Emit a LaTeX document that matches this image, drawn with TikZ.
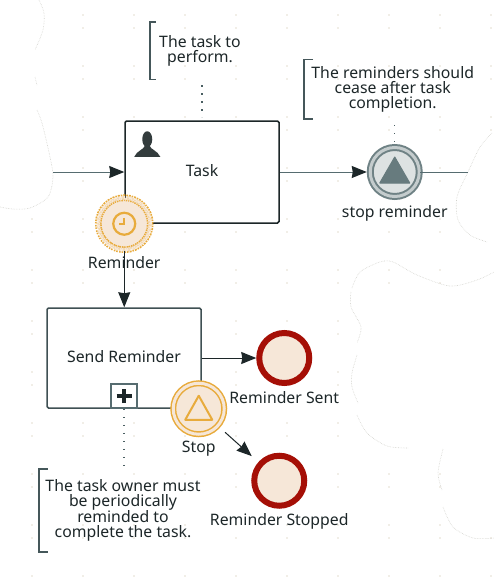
\documentclass[tikz,border=0pt]{standalone}
\usepackage{fontspec}
\setmainfont{Noto Sans}
\usetikzlibrary{positioning,arrows.meta,calc}
\definecolor{ink}{HTML}{1C2628}
\definecolor{slate}{HTML}{566C70}
\definecolor{peach}{HTML}{F6E7D8}
\definecolor{amber}{HTML}{E8AB3C}
\definecolor{blood}{HTML}{A50F06}
\definecolor{griddot}{HTML}{E3DCCF}
\definecolor{cloudline}{HTML}{D2D2CC}

\begin{document}
\begin{tikzpicture}[x=1pt,y=-1pt,>={Stealth[length=15pt,width=12pt,inset=1pt,ink]},
   every node/.style={font=\fontsize{15.8}{14.7}\selectfont,text=ink},
   taskbox/.style={draw=ink,line width=1.5pt,fill=white,rounded corners=1.5pt,minimum width=154pt,minimum height=102pt,inner sep=0pt,text height=12pt,text depth=3pt},
   endevent/.style={circle,draw=blood,line width=6pt,fill=peach,minimum size=50pt,inner sep=0pt},
   stopevent/.style={circle,draw=amber,line width=1.5pt,double=peach,double distance=3pt,fill=peach,minimum size=51pt,inner sep=0pt},
   timerevent/.style={stopevent,densely dotted,line width=1.6pt,double distance=3.5pt,minimum size=52pt},
   throwevent/.style={stopevent,draw=slate!85,double=slate!35,line width=2pt,fill=slate!20,minimum size=49pt},
   note/.style={align=center,inner sep=0pt},
   eventlabel/.style={inner sep=0pt,text height=11pt,text depth=3pt},
   bracket/.style={draw=slate!70!ink,line width=1.5pt},
   flow/.style={->,draw=ink,line width=1pt},
   grayflow/.style={flow,draw=slate},
   assoc/.style={draw=slate!80!ink,line width=1.4pt,dash pattern=on 1.4pt off 6.6pt},
   cloud/.style={draw=cloudline,line width=.6pt,densely dotted}]
  \useasboundingbox (0,0) rectangle (494,578);

  % background grid
  \foreach \gx in {32,83,...,491}
    \foreach \gy in {15,28,66,79,117,130,168,181,219,232,270,283,321,334,372,385,423,436,474,487,525,538,576} {
      \pgfmathparse{(\gx==32 && \gy<219) || (\gx==491 && \gy>130 && \gy<538) || ((\gx==389 || \gx==440) && \gy>283 && \gy<474) ? 1 : 0}
      \ifnum\pgfmathresult=0
        \fill[griddot] (\gx,\gy) circle (.9pt);
      \fi
    }

  % cloud outlines
  \draw[cloud] plot[smooth] coordinates {(39,0) (44,13) (43,30) (35,50)};
  \draw[cloud] (35,77) -- (37,85);
  \draw[cloud] plot[smooth] coordinates {(37,110) (42,123) (50,157) (53,177) (48,197) (30,208) (13,209) (0,207)};
  \draw[cloud] plot[smooth] coordinates {(492,133) (480,147) (468,172) (457,197) (458,220) (470,235) (487,242)};
  \draw[cloud] plot[smooth] coordinates {(352,288) (360,272) (380,262) (393,262) (417,275) (450,286) (477,280) (494,272)};
  \draw[cloud] plot[smooth] coordinates {(351,292) (351,307) (361,327) (357,343)};
  \draw[cloud] plot[smooth] coordinates {(357,355) (352,373) (352,387) (358,403)};
  \draw[cloud] plot[smooth] coordinates {(357,415) (367,433) (387,446) (408,448)};
  \draw[cloud] plot[smooth] coordinates {(443,449) (438,473) (442,490)};
  \draw[cloud] plot[smooth] coordinates {(443,507) (453,527) (473,538) (494,538)};

  \node[taskbox] (task) at (202,172) {Task};
  \node[taskbox,draw=slate!60!ink,minimum height=100pt,below=83.5pt of task,xshift=-78pt] (send) {Send Reminder};
  \node[draw=slate,line width=1.5pt,fill=white,minimum width=26pt,minimum height=24pt,inner sep=0pt,anchor=south] (expand) at (send.south) {};

  \node[throwevent,right=89.5pt of task] (stopthrow) {};
  \node[timerevent] (timer) at (task.south west) {};
  \node[stopevent] (stopcatch) at ([xshift=-3pt]send.south east) {};
  \node[endevent,right=54.5pt of send] (sent) {};
  \node[endevent] (stopped) at ($(stopcatch)+(80.5,72)$) {};

  \node[note,minimum width=100pt,minimum height=57pt,above=41pt of task,xshift=-2pt] (notetask) {The task to\\perform.};
  \node[note,minimum width=177pt,minimum height=59pt,above=27.5pt of stopthrow,xshift=-2pt] (notestop) {The reminders should\\cease after task\\completion.};
  \node[note,minimum width=168pt,minimum height=83pt,below=60pt of send,xshift=-1pt] (noteowner) {The task owner must\\be periodically\\reminded to\\complete the task.};

  \node[eventlabel,below=7pt of timer] (timerlabel) {Reminder};
  \node[eventlabel,below=8.5pt of stopthrow] (stopthrowlabel) {stop reminder};
  \node[eventlabel,below=6pt of stopcatch] (stopcatchlabel) {Stop};
  \node[eventlabel,below=6pt of sent] (sentlabel) {Reminder Sent};
  \node[eventlabel,below=6pt of stopped] (stoppedlabel) {Reminder Stopped};

  \coordinate (flowin) at (53,172);
  \coordinate (flowout) at (468,172);

  \draw[grayflow] (flowin) -- (task.west);
  \draw[grayflow,shorten >=2.5pt] (task.east) -- (stopthrow.west);
  \draw[slate,line width=1pt] (stopthrow.east) -- (flowout);
  \draw[flow] (timer.south) -- (timer.south |- send.north);
  \draw[flow] (send.east) -- (sent.west);
  \draw[flow,shorten <=9pt,shorten >=9pt] (stopcatch) -- (stopped);

  \draw[assoc,shorten <=6pt,shorten >=3pt] (notetask.south -| task.north) -- (task.north);
  \draw[assoc,shorten <=6pt,shorten >=2pt] (notestop.south -| stopthrow.north) -- (stopthrow.north);
  \draw[assoc] (expand.south) -- (noteowner.north -| expand.south);

  \draw[bracket] ([xshift=6pt]notetask.north west) -| (notetask.south west) -- ([xshift=6pt]notetask.south west);
  \draw[bracket] ([xshift=9pt]notestop.north west) -| (notestop.south west) -- ([xshift=9pt]notestop.south west);
  \draw[bracket] ([xshift=9pt]noteowner.north west) -| (noteowner.south west) -- ([xshift=9pt]noteowner.south west);

  % event and task markers
  \draw[amber,line width=2.2pt,fill=peach] (timer.center) circle (11pt);
  \draw[amber,line width=2.4pt] ([yshift=6pt]timer.center) -- (timer.center) -- ([xshift=-5pt]timer.center);
  \draw[amber,line width=2pt,line join=round] ([yshift=13pt]stopcatch.center) -- ([shift={(13.5pt,-11pt)}]stopcatch.center) -- ([shift={(-13.5pt,-11pt)}]stopcatch.center) -- cycle;
  \fill[slate!90,draw=slate!90,line width=1pt,line join=round] ([yshift=15pt]stopthrow.center) -- ([shift={(15pt,-11pt)}]stopthrow.center) -- ([shift={(-15pt,-11pt)}]stopthrow.center) -- cycle;
  \draw[ink,line width=3.5pt] ([xshift=-7.5pt]expand.center) -- ([xshift=7.5pt]expand.center);
  \draw[ink,line width=3.5pt] ([yshift=-7pt]expand.center) -- ([yshift=7pt]expand.center);
  \fill[ink!90] ($(task.north west)+(23,19)$) ellipse (5pt and 8pt);
  \fill[ink!90] ($(task.north west)+(10,36.5)$) .. controls ($(task.north west)+(13,30)$) and ($(task.north west)+(19,30)$) .. ($(task.north west)+(21,25)$) -- ($(task.north west)+(25,25)$) .. controls ($(task.north west)+(27,30)$) and ($(task.north west)+(33,30)$) .. ($(task.north west)+(36,36.5)$) -- cycle;
\end{tikzpicture}
\end{document}
